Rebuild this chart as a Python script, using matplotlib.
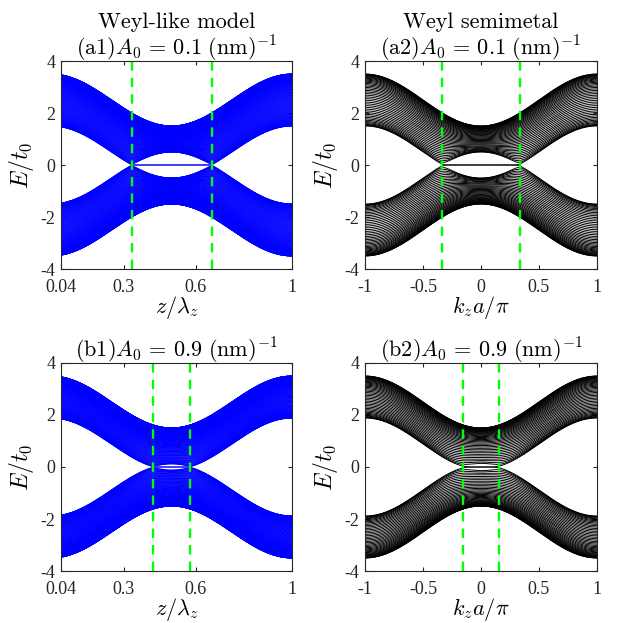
import numpy as np
import matplotlib
matplotlib.use("Agg")
import matplotlib.pyplot as plt

# values
panel_tags = [["(a1)", "(a2)"], ["(b1)", "(b2)"]]
A0_values = ["0.1", "0.9"]
weyl_nodes = [1 / 3, 0.155]          # k_z a / pi of the Weyl nodes
outer_edge = 2.5                      # top of band = outer_edge - cos(k_z a)
n_layers_left = 120                   # Weyl-like model (dense, blue)
n_layers_right = 45                   # Weyl semimetal slab (black)
x_ticks_left = [0.04, 0.3, 0.6, 1]
x_ticks_right = [-1, -0.5, 0, 0.5, 1]
y_ticks = [-4, -2, 0, 2, 4]

plt.rcParams["mathtext.fontset"] = "cm"
plt.rcParams["font.family"] = ["Liberation Serif", "DejaVu Serif"]
plt.rcParams["axes.unicode_minus"] = False

sz = np.array([[1, 0], [0, -1]], dtype=complex)
sy = np.array([[0, -1j], [1j, 0]], dtype=complex)


def slab_bands(kz, node, n_layers):
    # two-band lattice model, open along one direction
    c0 = np.cos(node * np.pi)
    alpha = (outer_edge + c0) / 2
    beta = (c0 - outer_edge) / 2
    hop = beta / 2 * sz - 0.5j * sy
    H = np.zeros((len(kz), 2 * n_layers, 2 * n_layers), dtype=complex)
    for j in range(n_layers):
        H[:, 2*j:2*j+2, 2*j:2*j+2] = (alpha - np.cos(kz * np.pi))[:, None, None] * sz
        if j < n_layers - 1:
            H[:, 2*j:2*j+2, 2*j+2:2*j+4] = hop
            H[:, 2*j+2:2*j+4, 2*j:2*j+2] = hop.conj().T
    return np.linalg.eigvalsh(H)


fig = plt.figure(figsize=(6.18, 6.23), dpi=100)
W, Hh = 618, 623
boxes = [[(61, 61, 292, 269), (365, 61, 597, 269)],
         [(61, 363, 292, 571), (365, 363, 597, 571)]]

for r in range(2):
    for c in range(2):
        x0, y0, x1, y1 = boxes[r][c]
        ax = fig.add_axes([x0 / W, 1 - y1 / Hh, (x1 - x0) / W, (y1 - y0) / Hh])
        node = weyl_nodes[r]
        if c == 0:
            x = np.linspace(0.04, 1, 400)
            kz = 2 * x - 1
            E = slab_bands(kz, node, n_layers_left)
            ax.plot(x, E, color="#0000ff", lw=0.7)
            ax.axvline(0.5 - node / 2, color="#00ff00", ls="--", lw=1.7, dashes=(4, 3))
            ax.axvline(0.5 + node / 2, color="#00ff00", ls="--", lw=1.7, dashes=(4, 3))
            ax.set_xlim(0.04, 1)
            ax.set_xticks(x_ticks_left)
            ax.set_xticklabels(["0.04", "0.3", "0.6", "1"])
            ax.set_xlabel(r"$z/\lambda_z$", fontsize=16, labelpad=-1)
            head = "Weyl-like model\n" if r == 0 else ""
        else:
            kz = np.linspace(-1, 1, 400)
            E = slab_bands(kz, node, n_layers_right)
            ax.plot(kz, E, color="black", lw=0.7)
            ax.axvline(-node, color="#00ff00", ls="--", lw=1.7, dashes=(4, 3))
            ax.axvline(node, color="#00ff00", ls="--", lw=1.7, dashes=(4, 3))
            ax.set_xlim(-1, 1)
            ax.set_xticks(x_ticks_right)
            ax.set_xticklabels(["-1", "-0.5", "0", "0.5", "1"])
            ax.set_xlabel(r"$k_z a/\pi$", fontsize=16, labelpad=-1)
            head = "Weyl semimetal\n" if r == 0 else ""
        ax.set_ylim(-4, 4)
        ax.set_yticks(y_ticks)
        ax.set_yticklabels([str(v) for v in y_ticks])
        ax.set_ylabel(r"$E/t_0$", fontsize=17, labelpad=3)
        ax.tick_params(direction="in", labelsize=13, length=3, top=True, right=True,
                       colors="#262626")
        ax.tick_params(axis="x", pad=7)
        ax.tick_params(axis="y", pad=4)
        for s in ax.spines.values():
            s.set_color("#262626")
            s.set_linewidth(0.8)
        title = head + panel_tags[r][c] + r"$A_0\,=\," + A0_values[r] + r"\ \mathrm{(nm)}^{-1}$"
        ax.set_title(title, fontsize=16, family="cmr10", pad=4, linespacing=1.1)

fig.savefig("out.png", dpi=100)
